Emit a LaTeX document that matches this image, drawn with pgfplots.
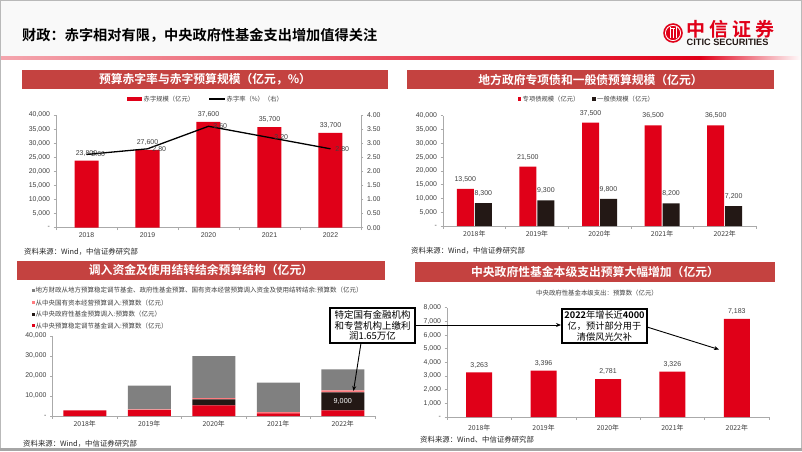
\documentclass[border=0pt]{standalone}
\usepackage{pgfplots}
\pgfplotsset{compat=1.18}
\usepackage{fontspec}
\setmainfont{Liberation Sans}
\newfontfamily\cjk[BoldFont={Noto Sans CJK SC Bold}]{Noto Sans CJK SC}
\usetikzlibrary{arrows.meta}
\definecolor{titlered}{RGB}{196,66,64}
\definecolor{barred}{RGB}{224,0,24}
\definecolor{barblack}{RGB}{35,24,21}
\definecolor{bargray}{RGB}{128,128,128}
\definecolor{barpink}{RGB}{255,124,128}
\definecolor{txtgray}{RGB}{64,64,64}
\definecolor{axgray}{RGB}{170,170,170}
\newcommand{\fs}[1]{\fontsize{#1}{#1}\selectfont}
\pgfplotsset{
 slide/.style={
  scale only axis, anchor=south west,
  axis x line*=bottom, axis y line*=left,
  xmin=-0.5, xmax=4.5,
  xtick={-0.5,0.5,1.5,2.5,3.5,4.5}, xticklabels={},
  extra x ticks={0,1,2,3,4},
  extra x tick style={major tick length=0pt, tick style={draw=none}},
  tick align=outside,
  major tick length=2.5pt,
  scaled y ticks=false,
  axis line style={draw=axgray, line width=0.6pt},
  tick style={draw=axgray, line width=0.6pt},
  tick label style={font=\fs{6.9}, text=txtgray},
  xticklabel style={yshift=-1.5pt},
  /pgf/number format/assume math mode=true,
  /pgf/number format/fixed,
  /pgf/number format/1000 sep={,},
  clip=false,
 }
}
\begin{document}
\begin{tikzpicture}[x=1pt,y=1pt]
% anchor points for the axes
\coordinate (A1) at (56,223.3);
\coordinate (A2) at (443,225);
\coordinate (A3) at (52.5,35);
\coordinate (A4) at (447,34);
% background & header
\fill[white] (0,0) rectangle (802,451);
\fill[gray!5] (0,394) rectangle (802,451);
\shade[left color=barred!35, right color=barred] (0,392) rectangle (700,394.5);
\shade[left color=barred, right color=white] (700,392) rectangle (802,394.5);
\draw[gray!55, line width=1pt] (0.5,3) -- (0.5,450.5) -- (801.5,450.5) -- (801.5,3);
\fill[gray!70] (0,0) rectangle (802,3);
\node[anchor=west, font=\cjk\bfseries\fs{14.2}, text=black, inner sep=0] at (22,416) {财政：赤字相对有限，中央政府性基金支出增加值得关注};
% logo
\fill[barred] (673,418) circle (9.8);
\draw[white, line width=0.8pt] (673,418) circle (7.6);
\draw[white, line width=1pt] (670,412.5) -- (670,423.5) (673,412.5) -- (673,422.5) (676,412.5) -- (676,423.5);
\draw[white, line width=0.9pt] (671,422.5) -- (675,422.5);
\node[anchor=west, font=\cjk\bfseries\fs{19}, text=barred, inner sep=0] at (686,422) {中\hspace{4pt}信\hspace{4pt}证\hspace{4pt}券};
\node[anchor=west, font=\bfseries\fs{9.2}, text=barblack, inner sep=0] at (686.5,409) {CITIC SECURITIES};

% ===== title bars
\fill[titlered] (22,362) rectangle (388,381);
\node[white, font=\cjk\bfseries\fs{11.8}] at (205,371.5) {预算赤字率与赤字预算规模（亿元，\%）};
\fill[titlered] (407,362) rectangle (774,381);
\node[white, font=\cjk\bfseries\fs{11.8}] at (590.5,371.5) {地方政府专项债和一般债预算规模（亿元）};
\fill[titlered] (17,171) rectangle (385,190);
\node[white, font=\cjk\bfseries\fs{11.8}] at (201,180.5) {调入资金及使用结转结余预算结构（亿元）};
\fill[titlered] (415,169) rectangle (775,189);
\node[white, font=\cjk\bfseries\fs{11.8}] at (595,179) {中央政府性基金本级支出预算大幅增加（亿元）};

% ===== Chart 1
\fill[barred] (127,350.3) rectangle (142,353.7);
\node[anchor=west, font=\cjk\fs{6.3}, text=txtgray, inner sep=0] at (143.5,352) {赤字规模（亿元）};
\draw[black, line width=1.2pt] (209,352) -- (225,352);
\node[anchor=west, font=\cjk\fs{6.3}, text=txtgray, inner sep=0] at (226.5,352) {赤字率（\%）（右）};
\begin{axis}[slide, at={(A1)}, width=305pt, height=112.7pt,
  ymin=0, ymax=40000, ytick={0,5000,...,40000},
  yticklabels={-,{5,000},{10,000},{15,000},{20,000},{25,000},{30,000},{35,000},{40,000}},
  extra x tick labels={2018,2019,2020,2021,2022}]
\addplot[ybar, bar width=24pt, fill=barred, draw=none, nodes near coords,
  every node near coord/.append style={font=\fs{7}, text=txtgray, yshift=1pt}]
  coordinates {(0,23800)(1,27600)(2,37600)(3,35700)(4,33700)};
\end{axis}
\begin{axis}[scale only axis, anchor=south west, at={(A1)}, width=305pt, height=112.7pt,
  xmin=-0.5, xmax=4.5, ymin=0, ymax=4, axis x line=none, axis y line*=right,
  ytick={0,0.5,...,4}, tick align=outside, major tick length=2.5pt,
  axis line style={draw=axgray, line width=0.6pt},
  tick style={draw=axgray, line width=0.6pt},
  tick label style={font=\fs{6.9}, text=txtgray},
  clip=false, scaled y ticks=false,
  /pgf/number format/assume math mode=true,
  /pgf/number format/fixed,
  /pgf/number format/fixed zerofill,
  /pgf/number format/precision=2]
\addplot[black, line width=1.3pt, mark=none, nodes near coords,
  every node near coord/.append style={anchor=west, font=\fs{7}, text=txtgray, xshift=1pt}]
  coordinates {(0,2.6)(1,2.8)(2,3.6)(3,3.2)(4,2.8)};
\end{axis}
\node[anchor=west, font=\cjk\fs{7.4}, text=black!85, inner sep=0] at (24,199) {资料来源：Wind，中信证券研究部};

% ===== Chart 2
\fill[barred] (517.5,350.3) rectangle (521,353.7);
\node[anchor=west, font=\cjk\fs{6.3}, text=txtgray, inner sep=0] at (522.5,352) {专项债规模（亿元）};
\fill[barblack] (592,350.3) rectangle (595.5,353.7);
\node[anchor=west, font=\cjk\fs{6.3}, text=txtgray, inner sep=0] at (597,352) {一般债规模（亿元）};
\begin{axis}[slide, at={(A2)}, width=313pt, height=110.3pt,
  ymin=0, ymax=40000, ytick={0,5000,...,40000},
  yticklabels={-,{5,000},{10,000},{15,000},{20,000},{25,000},{30,000},{35,000},{40,000}},
  extra x tick labels={{\cjk 2018年},{\cjk 2019年},{\cjk 2020年},{\cjk 2021年},{\cjk 2022年}},
  ybar=1pt, bar width=17pt]
\addplot[fill=barred, draw=none, nodes near coords,
  every node near coord/.append style={font=\fs{7}, text=txtgray, yshift=3pt}]
  coordinates {(0,13500)(1,21500)(2,37500)(3,36500)(4,36500)};
\addplot[fill=barblack, draw=none, nodes near coords,
  every node near coord/.append style={font=\fs{7}, text=txtgray, yshift=3pt}]
  coordinates {(0,8300)(1,9300)(2,9800)(3,8200)(4,7200)};
\end{axis}
\node[anchor=west, font=\cjk\fs{7.4}, text=black!85, inner sep=0] at (411,200) {资料来源：Wind，中信证券研究部};

% ===== Chart 3
\fill[bargray] (31.5,159.5) rectangle (34.5,162.5);
\node[anchor=west, font=\cjk\fs{6.5}, text=txtgray, inner sep=0] at (35.5,161) {地方财政从地方预算稳定调节基金、政府性基金预算、国有资本经营预算调入资金及使用结转结余:预算数（亿元）};
\fill[barpink] (31.5,146.8) rectangle (34.5,149.8);
\node[anchor=west, font=\cjk\fs{6.5}, text=txtgray, inner sep=0] at (35.5,148.3) {从中央国有资本经营预算调入:预算数（亿元）};
\fill[barblack] (31.5,135.2) rectangle (34.5,138.2);
\node[anchor=west, font=\cjk\fs{6.5}, text=txtgray, inner sep=0] at (35.5,136.7) {从中央政府性基金预算调入:预算数（亿元）};
\fill[barred] (31.5,123.8) rectangle (34.5,126.8);
\node[anchor=west, font=\cjk\fs{6.5}, text=txtgray, inner sep=0] at (35.5,125.3) {从中央预算稳定调节基金调入:预算数（亿元）};
\begin{axis}[slide, at={(A3)}, width=322.5pt, height=80pt,
  ymin=0, ymax=40000, ytick={0,10000,...,40000},
  yticklabels={-,{10,000},{20,000},{30,000},{40,000}},
  extra x tick labels={{\cjk 2018年},{\cjk 2019年},{\cjk 2020年},{\cjk 2021年},{\cjk 2022年}},
  ybar stacked, bar width=43pt]
\addplot[fill=barred, draw=none] coordinates {(0,2800)(1,3000)(2,5300)(3,1300)(4,2765)};
\addplot[fill=barblack, draw=none] coordinates {(0,0)(1,0)(2,3000)(3,0)(4,9000)};
\addplot[fill=barpink, draw=none] coordinates {(0,0)(1,300)(2,600)(3,700)(4,1000)};
\addplot[fill=bargray, draw=none] coordinates {(0,0)(1,11900)(2,21100)(3,14700)(4,10500)};
\coordinate (L9) at (axis cs:4,7300);
\end{axis}
\node[text=white, font=\fs{7.2}] at (L9) {9,000};
\node[anchor=west, font=\cjk\fs{7.4}, text=black!85, inner sep=0] at (23,7) {资料来源：Wind，中信证券研究部};

% ===== Chart 4
\node[font=\cjk\fs{6.4}, text=txtgray] at (597,158) {中央政府性基金本级支出：预算数（亿元）};
\begin{axis}[slide, at={(A4)}, width=322pt, height=109.3pt,
  ymin=0, ymax=8000, ytick={0,1000,...,8000},
  yticklabels={-,{1,000},{2,000},{3,000},{4,000},{5,000},{6,000},{7,000},{8,000}},
  extra x tick labels={{\cjk 2018年},{\cjk 2019年},{\cjk 2020年},{\cjk 2021年},{\cjk 2022年}},
  xticklabel style={yshift=-2.5pt}]
\addplot[ybar, bar width=26pt, fill=barred, draw=none, nodes near coords,
  every node near coord/.append style={font=\fs{7}, text=txtgray, yshift=1pt}]
  coordinates {(0,3263)(1,3396)(2,2781)(3,3326)(4,7183)};
\end{axis}
\node[anchor=west, font=\cjk\fs{7.4}, text=black!85, inner sep=0] at (420,11) {资料来源：Wind、中信证券研究部};

% ===== annotation boxes and arrows
\draw[-{Stealth[length=5pt,width=4pt]}, line width=0.9pt] (361,108) -- (353.5,60);
\draw[-{Stealth[length=5pt,width=4pt]}, line width=0.9pt] (415,126) -- (561,126);
\draw[-{Stealth[length=5pt,width=4pt]}, line width=0.9pt] (647,124) -- (719,101.5);
\node[draw=black, line width=1.3pt, fill=white, align=center, minimum width=85pt, minimum height=35pt,
  inner sep=1pt, font=\cjk\fontsize{9.5}{10.6}\selectfont, text=black] at (372.5,125.5)
  {特定国有金融机构\\和专营机构上缴利\\润1.65万亿};
\node[draw=black, line width=1.3pt, fill=white, align=center, minimum width=85pt, minimum height=34pt,
  inner sep=1pt, font=\cjk\fontsize{9.2}{10.6}\selectfont, text=black] at (604.5,125)
  {\textbf{2022}年增长近\textbf{4000}\\亿，预计部分用于\\清偿风光欠补};
\end{tikzpicture}
\end{document}
